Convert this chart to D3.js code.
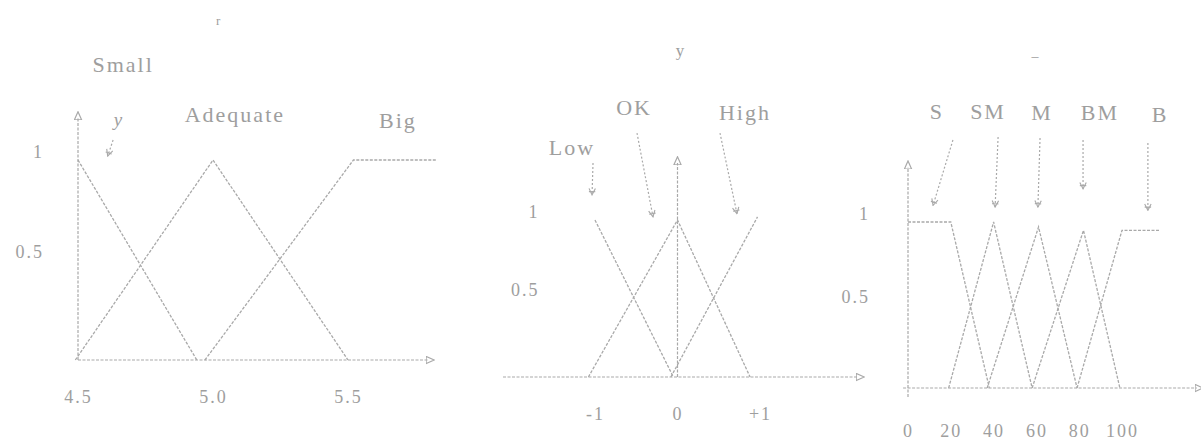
<!DOCTYPE html>
<html>
<head>
<meta charset="utf-8">
<script src="https://cdn.jsdelivr.net/npm/d3@7"></script>
<style>
  body { margin: 0; background: #fff; }
  svg { display: block; }
  text { font-family: "Liberation Serif", "DejaVu Serif", serif; fill: #9e9e9e; }
</style>
</head>
<body>
<svg id="chart" width="1201" height="444"></svg>
<script>
// ---- Panel 1: Small / Adequate / Big ----
const p1Categories = ["Small", "Adequate", "Big"];
const p1Small    = [[4.5, 1], [4.94, 0]];
const p1Adequate = [[4.49, 0], [5.0, 1], [5.5, 0]];
const p1Big      = [[4.97, 0], [5.52, 1], [5.83, 1]];
const p1TickValues = [4.5, 5.0, 5.5];
const p1TickLabels = ["4.5", "5.0", "5.5"];

// ---- Panel 2: Low / OK / High ----
const p2Categories = ["Low", "OK", "High"];
const p2Low  = [[-1, 1], [-0.05, 0]];
const p2OK   = [[-1.08, 0], [0, 1], [0.88, 0]];
const p2High = [[-0.08, 0], [0.97, 1.02]];
const p2TickValues = [-1, 0, 1];
const p2TickLabels = ["-1", "0", "+1"];

// ---- Panel 3: S / SM / M / BM / B ----
const p3Categories = ["S", "SM", "M", "BM", "B"];
const p3S  = [[0, 1], [20, 1], [38, 0]];
const p3SM = [[19, 0], [40, 1], [58, 0]];
const p3M  = [[37, 0], [61, 0.97], [79, 0]];
const p3BM = [[58, 0], [82, 0.95], [99, 0]];
const p3B  = [[79, 0], [100, 0.95], [118, 0.95]];
const p3TickValues = [0, 20, 40, 60, 80, 100];
const p3TickLabels = ["0", "20", "40", "60", "80", "100"];

const yTickValues = [0.5, 1];
const yTickLabels = ["0.5", "1"];

// ---- layout (pixel ranges and label anchors in data units) ----
const panels = [
  {
    xDomain: [4.5, 5.5], xRange: [78, 348], yRange: [360, 160],
    series: [p1Small, p1Adequate, p1Big],
    ticks: p1TickValues, tickLabels: p1TickLabels,
    xAxisExtent: [4.5, 5.796], yAxisExtent: [0, 1.21],
    yLabelPad: 34, xLabelPad: 30,
    labels: [
      { text: p1Categories[0], x: 4.667, y: 1.465 },
      { text: p1Categories[1], x: 5.081, y: 1.215 },
      { text: p1Categories[2], x: 5.685, y: 1.185 },
      { text: "y", x: 4.648, y: 1.19, italic: true, size: 19 },
      { text: "r", x: 5.019, y: 1.69, size: 13 }
    ],
    arrows: [ { from: [4.63, 1.1], to: [4.61, 1.02] } ]
  },
  {
    xDomain: [-1, 1], xRange: [595, 760], yRange: [377, 220],
    series: [p2Low, p2OK, p2High],
    ticks: p2TickValues, tickLabels: p2TickLabels,
    xAxisExtent: [-2.115, 2.188], yAxisExtent: [0, 1.363],
    yLabelPad: 138, xLabelPad: 30,
    labels: [
      { text: p2Categories[0], x: -1.279, y: 1.445 },
      { text: p2Categories[1], x: -0.527, y: 1.70 },
      { text: p2Categories[2], x: 0.818, y: 1.669 },
      { text: "y", x: 0.03, y: 2.07, size: 17 }
    ],
    arrows: [
      { from: [-1.024, 1.363], to: [-1.036, 1.16] },
      { from: [-0.491, 1.554], to: [-0.297, 1.02] },
      { from: [0.515, 1.554], to: [0.721, 1.04] }
    ]
  },
  {
    xDomain: [0, 100], xRange: [908, 1122], yRange: [388, 222],
    series: [p3S, p3SM, p3M, p3BM, p3B],
    ticks: p3TickValues, tickLabels: p3TickLabels,
    xAxisExtent: [-2.3, 135], yAxisExtent: [-0.054, 1.33],
    yLabelPad: 38, xLabelPad: 36,
    labels: [
      { text: p3Categories[0], x: 13.55, y: 1.65 },
      { text: p3Categories[1], x: 37.4, y: 1.65 },
      { text: p3Categories[2], x: 62.6, y: 1.645 },
      { text: p3Categories[3], x: 89.7, y: 1.645 },
      { text: p3Categories[4], x: 117.8, y: 1.633 },
      { text: "\u2013", x: 59.3, y: 1.99, size: 14 }
    ],
    arrows: [
      { from: [21.0, 1.494], to: [11.7, 1.10] },
      { from: [42.1, 1.512], to: [40.7, 1.09] },
      { from: [61.7, 1.506], to: [60.7, 1.09] },
      { from: [81.8, 1.494], to: [81.8, 1.20] },
      { from: [112.1, 1.476], to: [112.1, 1.07] }
    ]
  }
];

const svg = d3.select("#chart");
const ink = "#a9a9a9";

// markers: axis heads and small annotation arrowheads
const defs = svg.append("defs");
defs.append("marker")
  .attr("id", "axisHead").attr("viewBox", "0 0 10 10")
  .attr("refX", 2).attr("refY", 5)
  .attr("markerWidth", 9).attr("markerHeight", 9)
  .attr("markerUnits", "userSpaceOnUse")
  .attr("orient", "auto")
  .append("path").attr("d", "M0,1 L9,5 L0,9 Z")
  .attr("fill", "none").attr("stroke", ink).attr("stroke-width", 1.3);
defs.append("marker")
  .attr("id", "noteHead").attr("viewBox", "0 0 10 10")
  .attr("refX", 9).attr("refY", 5)
  .attr("markerWidth", 8).attr("markerHeight", 8)
  .attr("markerUnits", "userSpaceOnUse")
  .attr("orient", "auto")
  .append("path").attr("d", "M1,1 L9,5 L1,9 M5,1 L5,9")
  .attr("fill", "none").attr("stroke", ink).attr("stroke-width", 1.4);

panels.forEach(p => {
  const x = d3.scaleLinear().domain(p.xDomain).range(p.xRange);
  const y = d3.scaleLinear().domain([0, 1]).range(p.yRange);
  const g = svg.append("g");
  // the vertical axis sits at the left edge, or at x = 0 when the domain spans zero
  const yAxisX = p.xDomain[0] < 0 ? x(0) : x(p.xDomain[0]);

  // axis lines with arrowheads
  g.append("line")
    .attr("x1", x(p.xAxisExtent[0])).attr("x2", x(p.xAxisExtent[1]))
    .attr("y1", y(0)).attr("y2", y(0))
    .attr("stroke", ink).attr("stroke-width", 1.2)
    .attr("stroke-dasharray", "3 1.5")
    .attr("marker-end", "url(#axisHead)");
  g.append("line")
    .attr("x1", yAxisX).attr("x2", yAxisX)
    .attr("y1", y(p.yAxisExtent[0])).attr("y2", y(p.yAxisExtent[1]))
    .attr("stroke", ink).attr("stroke-width", 1.2)
    .attr("stroke-dasharray", "3 1.5")
    .attr("marker-end", "url(#axisHead)");

  // tick labels via d3 axes
  const xAxis = d3.axisBottom(x)
    .tickValues(p.ticks)
    .tickFormat((d, i) => p.tickLabels[i])
    .tickSize(0).tickPadding(p.xLabelPad);
  const xa = g.append("g").attr("transform", `translate(0,${y(0)})`).call(xAxis);
  xa.select(".domain").remove();
  xa.selectAll("text")
    .style("font-family", '"Liberation Serif", serif')
    .style("font-size", "18px")
    .style("letter-spacing", "2px")
    .attr("fill", "#a4a4a4");

  const yAxis = d3.axisLeft(y)
    .tickValues(yTickValues)
    .tickFormat((d, i) => yTickLabels[i])
    .tickSize(0).tickPadding(p.yLabelPad);
  const ya = g.append("g").attr("transform", `translate(${yAxisX},0)`).call(yAxis);
  ya.select(".domain").remove();
  ya.selectAll("text")
    .attr("dy", "-0.15em")
    .style("font-family", '"Liberation Serif", serif')
    .style("font-size", "18px")
    .style("letter-spacing", "2px")
    .attr("fill", "#a4a4a4");

  // membership functions
  const line = d3.line().x(d => x(d[0])).y(d => y(d[1]));
  g.selectAll("path.mf")
    .data(p.series)
    .join("path")
    .attr("class", "mf")
    .attr("d", line)
    .attr("fill", "none")
    .attr("stroke", ink)
    .attr("stroke-width", 1.3)
    .attr("stroke-dasharray", "3 1.5");

  // annotation arrows
  g.selectAll("line.note")
    .data(p.arrows)
    .join("line")
    .attr("class", "note")
    .attr("x1", d => x(d.from[0])).attr("y1", d => y(d.from[1]))
    .attr("x2", d => x(d.to[0])).attr("y2", d => y(d.to[1]))
    .attr("stroke", ink).attr("stroke-width", 1.2)
    .attr("stroke-dasharray", "2 2")
    .attr("marker-end", "url(#noteHead)");

  // category names and symbols
  g.selectAll("text.lbl")
    .data(p.labels)
    .join("text")
    .attr("class", "lbl")
    .attr("x", d => x(d.x)).attr("y", d => y(d.y))
    .attr("text-anchor", "middle")
    .attr("dominant-baseline", "middle")
    .style("font-size", d => (d.size || 22) + "px")
    .style("font-style", d => d.italic ? "italic" : "normal")
    .style("letter-spacing", d => d.size ? "0px" : "2px")
    .text(d => d.text);
});
</script>
</body>
</html>
